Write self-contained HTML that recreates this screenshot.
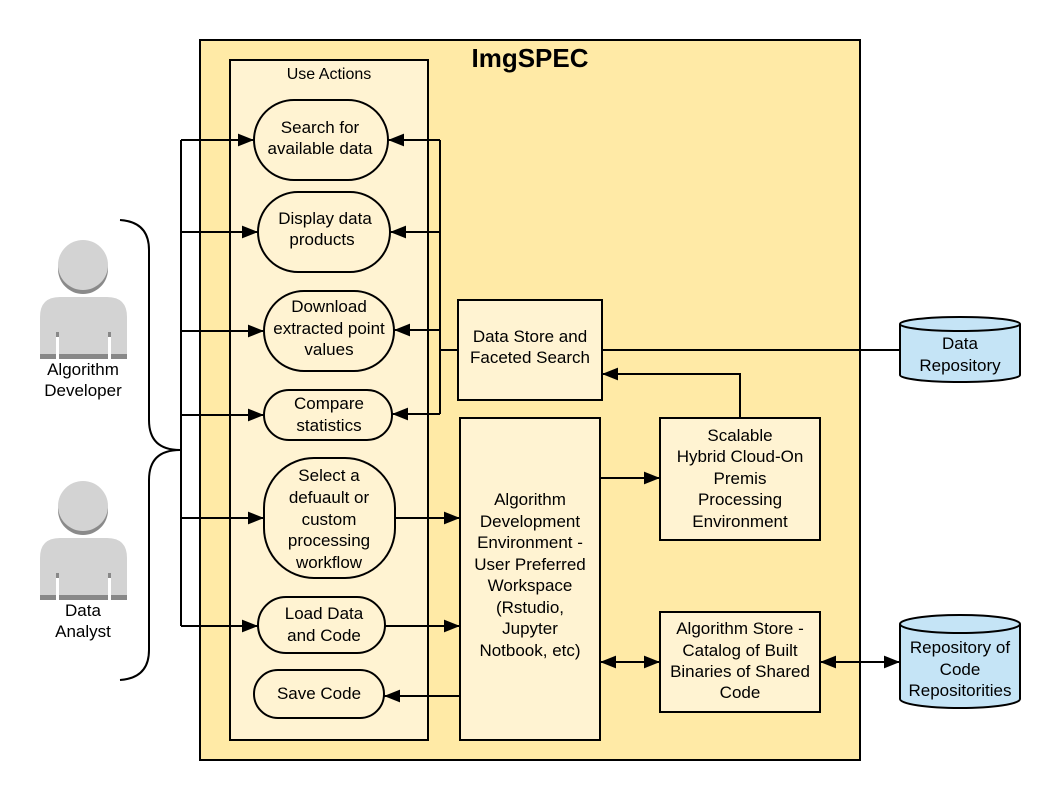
<!DOCTYPE html>
<html><head><meta charset="utf-8"><style>
html,body{margin:0;padding:0;background:#fff;}
svg{display:block;}
text{font-family:"Liberation Sans",sans-serif;font-size:17px;fill:#000;text-anchor:middle;}
</style></head><body>
<svg width="1060" height="800" viewBox="0 0 1060 800" xmlns="http://www.w3.org/2000/svg">
<defs>
<marker id="a" viewBox="0 0 10 10" refX="10" refY="5" markerWidth="16" markerHeight="16" markerUnits="userSpaceOnUse" orient="auto-start-reverse"><path d="M0,1 L10,5 L0,9 z" fill="#000"/></marker>
</defs>
<rect x="200" y="40" width="660" height="720" fill="#ffeaa6" stroke="#000" stroke-width="2"/>
<text x="530" y="67" style="font-size:26px;font-weight:bold">ImgSPEC</text>
<rect x="230" y="60" width="198" height="680" fill="#fff3d2" stroke="#000" stroke-width="2"/>
<text x="329" y="79" style="font-size:16px">Use Actions</text>

<g>
<circle cx="83" cy="269" r="25" fill="#8a8a8a"/>
<circle cx="83" cy="265" r="25" fill="#d3d3d3"/>
<path d="M40,359 V317 Q40,297 60,297 H107 Q127,297 127,317 V359 Z" fill="#d3d3d3"/>
<rect x="40" y="354" width="87" height="5" fill="#888"/>
<rect x="56" y="332" width="3" height="27" fill="#fff"/><rect x="56" y="332" width="3" height="5" fill="#888"/>
<rect x="108" y="332" width="3" height="27" fill="#fff"/><rect x="108" y="332" width="3" height="5" fill="#888"/>
<text x="83" y="375">Algorithm</text><text x="83" y="396">Developer</text>
</g>
<g transform="translate(0,241)">
<circle cx="83" cy="269" r="25" fill="#8a8a8a"/>
<circle cx="83" cy="265" r="25" fill="#d3d3d3"/>
<path d="M40,359 V317 Q40,297 60,297 H107 Q127,297 127,317 V359 Z" fill="#d3d3d3"/>
<rect x="40" y="354" width="87" height="5" fill="#888"/>
<rect x="56" y="332" width="3" height="27" fill="#fff"/><rect x="56" y="332" width="3" height="5" fill="#888"/>
<rect x="108" y="332" width="3" height="27" fill="#fff"/><rect x="108" y="332" width="3" height="5" fill="#888"/>
<text x="83" y="375">Data</text><text x="83" y="396">Analyst</text>
</g>

<g fill="none" stroke="#000" stroke-width="2">
<path d="M120,220 Q149,222 149,250 V420 Q149,450 180,450 Q149,450 149,480 V650 Q149,678 120,680"/>
<path d="M181,140 V626"/>
</g>

<g stroke="#000" stroke-width="2" fill="none" marker-end="url(#a)">
<path d="M181,140 H254"/>
<path d="M181,232 H258"/>
<path d="M181,331 H264"/>
<path d="M181,415 H264"/>
<path d="M181,518 H264"/>
<path d="M181,626 H258"/>
</g>

<g fill="#fff3d2" stroke="#000" stroke-width="2">
<rect x="254" y="100" width="134" height="80" rx="40"/>
<rect x="258" y="192" width="132" height="80" rx="40"/>
<rect x="264" y="291" width="130" height="80" rx="40"/>
<rect x="264" y="390" width="128" height="50" rx="25"/>
<rect x="264" y="458" width="131" height="120" rx="50"/>
<rect x="258" y="597" width="127" height="56" rx="28"/>
<rect x="254" y="670" width="130" height="48" rx="24"/>
</g>
<text x="320" y="133">Search for</text><text x="320" y="154">available data</text>
<text x="325" y="224">Display data</text><text x="322" y="245">products</text>
<text x="329" y="312">Download</text><text x="329" y="334">extracted point</text><text x="329" y="355">values</text>
<text x="329" y="409">Compare</text><text x="329" y="431">statistics</text>
<text x="329" y="481">Select a</text><text x="329" y="503">defuault or</text><text x="329" y="525">custom</text><text x="329" y="546">processing</text><text x="329" y="568">workflow</text>
<text x="324" y="619">Load Data</text><text x="324" y="641">and Code</text>
<text x="319" y="699">Save Code</text>

<g stroke="#000" stroke-width="2" fill="none">
<path d="M440,140 V414"/>
<path d="M440,350 H458"/>
<path d="M602,350 H900"/>
</g>
<g stroke="#000" stroke-width="2" fill="none" marker-end="url(#a)">
<path d="M440,140 H388"/>
<path d="M440,232 H390"/>
<path d="M440,330 H394"/>
<path d="M440,414 H392"/>
<path d="M395,518 H460"/>
<path d="M385,626 H460"/>
<path d="M460,696 H384"/>
<path d="M740,418 V374 H602"/>
<path d="M600,478 H660"/>
<path d="M600,662 H660" marker-start="url(#a)"/>
<path d="M820,662 H900" marker-start="url(#a)"/>
</g>

<g fill="#fff3d2" stroke="#000" stroke-width="2">
<rect x="458" y="300" width="144" height="100"/>
<rect x="460" y="418" width="140" height="322"/>
<rect x="660" y="418" width="160" height="122"/>
<rect x="660" y="612" width="160" height="100"/>
</g>
<text x="530" y="342">Data Store and</text><text x="530" y="363">Faceted Search</text>
<text x="530" y="505">Algorithm</text><text x="530" y="527">Development</text><text x="530" y="548">Environment -</text><text x="530" y="570">User Preferred</text><text x="530" y="591">Workspace</text><text x="530" y="613">(Rstudio,</text><text x="530" y="634">Jupyter</text><text x="530" y="656">Notbook, etc)</text>
<text x="740" y="441">Scalable</text><text x="740" y="462">Hybrid Cloud-On</text><text x="740" y="484">Premis</text><text x="740" y="505">Processing</text><text x="740" y="527">Environment</text>
<text x="740" y="634">Algorithm Store -</text><text x="740" y="656">Catalog of Built</text><text x="740" y="677">Binaries of Shared</text><text x="740" y="698">Code</text>

<g fill="#c5e4f6" stroke="#000" stroke-width="2">
<path d="M900,324 V375 A60,7 0 0 0 1020,375 V324"/>
<ellipse cx="960" cy="324" rx="60" ry="7"/>
<path d="M900,624 V699 A60,9 0 0 0 1020,699 V624"/>
<ellipse cx="960" cy="624" rx="60" ry="9"/>
</g>
<text x="960" y="349">Data</text><text x="960" y="371">Repository</text>
<text x="960" y="653">Repository of</text><text x="960" y="675">Code</text><text x="960" y="696">Repositorities</text>
</svg>
</body></html>
